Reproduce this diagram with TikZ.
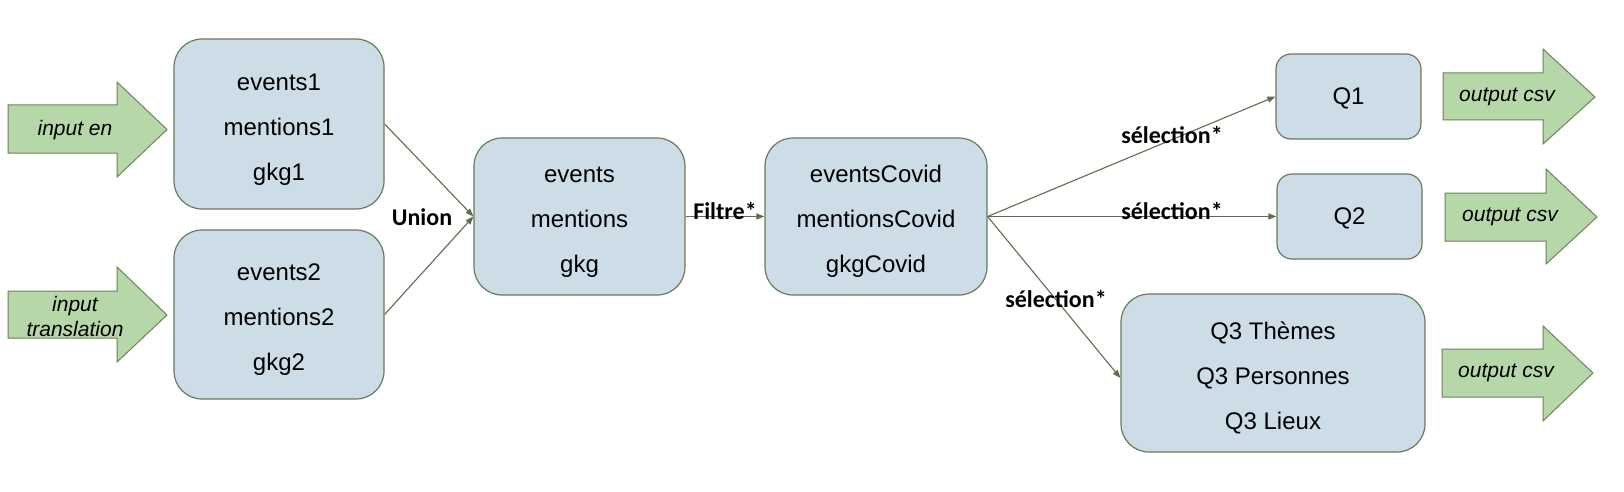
\documentclass[tikz,border=0pt]{standalone}
\usepackage{fontspec}
\setmainfont{Liberation Sans}
\newfontfamily\calfont{Carlito}
\usetikzlibrary{arrows.meta}
\definecolor{boxfill}{RGB}{204,221,232}
\definecolor{boxdraw}{RGB}{107,122,89}
\definecolor{arrfill}{RGB}{182,215,168}
\definecolor{arrdraw}{RGB}{110,130,92}
\definecolor{conn}{RGB}{94,110,78}
\newcommand{\firstln}{\rule{0pt}{27pt}}
\newcommand{\oneln}{\rule{0pt}{21pt}}
\begin{document}
\begin{tikzpicture}[x=1pt,y=-1pt,
  databox/.style={draw=boxdraw,fill=boxfill,line width=1.2pt,rounded corners=28pt,
    align=center,inner sep=0pt,font=\fontsize{24}{45}\selectfont},
  smallbox/.style={databox,rounded corners=15pt},
  blk/.style={draw=arrdraw,fill=arrfill,line width=1pt,line join=miter},
  arrlabel/.style={font=\fontsize{21}{25}\selectfont\itshape,align=center,inner sep=0pt},
  oplabel/.style={font=\calfont\bfseries\fontsize{24}{24}\selectfont,inner sep=0pt},
  link/.style={draw=conn,line width=1.1pt,-{Triangle[length=8pt,width=6pt]}}]
\useasboundingbox (0,0) rectangle (1624,492);
\fill[white] (0,0) rectangle (1624,492);

% input block arrows
\draw[blk] (8,105) -- (117,105) -- (117,82) -- (167,129.5) -- (117,177) -- (117,153) -- (8,153) -- cycle;
\node[arrlabel] (in1) at (75,130) {input en};
\draw[blk] (8,291) -- (117,291) -- (117,267) -- (167,315) -- (117,362) -- (117,338) -- (8,338) -- cycle;
\node[arrlabel] (in2) at (75,316) {input\\translation};

% output block arrows
\draw[blk] (1443,73) -- (1543,73) -- (1543,49) -- (1595,97) -- (1543,144) -- (1543,120) -- (1443,120) -- cycle;
\node[arrlabel] (out1) at (1507,97) {output csv};
\draw[blk] (1445,193) -- (1546,193) -- (1546,169) -- (1597,217) -- (1546,264) -- (1546,241) -- (1445,241) -- cycle;
\node[arrlabel] (out2) at (1510,217) {output csv};
\draw[blk] (1442,349) -- (1543,349) -- (1543,326) -- (1593,373) -- (1543,421) -- (1543,397) -- (1442,397) -- cycle;
\node[arrlabel] (out3) at (1506,373) {output csv};

% data boxes
\node[databox,minimum width=210pt,minimum height=170pt] (b1) at (279,124) {\firstln events1\\mentions1\\gkg1};
\node[databox,minimum width=210pt,minimum height=169pt] (b2) at (279,314.5) {\firstln events2\\mentions2\\gkg2};
\node[databox,minimum width=211pt,minimum height=157pt] (ev) at (579.5,216.5) {\firstln events\\mentions\\gkg};
\node[databox,minimum width=222pt,minimum height=157pt] (cov) at (876,216.5) {\firstln eventsCovid\\mentionsCovid\\gkgCovid};
\node[smallbox,minimum width=145pt,minimum height=85pt] (q1) at (1348.5,96.5) {\oneln Q1};
\node[smallbox,minimum width=145pt,minimum height=85pt] (q2) at (1349.5,216.5) {\oneln Q2};
\node[databox,minimum width=304pt,minimum height=158pt] (q3) at (1273,373) {\firstln Q3 Thèmes\\Q3 Personnes\\Q3 Lieux};

% connectors
\draw[link] (b1.east) -- (ev.west);
\draw[link] (b2.east) -- (ev.west);
\draw[link] (ev.east) -- (cov.west);
\draw[link] (cov.east) -- (q1.west);
\draw[link] (cov.east) -- (q2.west);
\draw[link] (cov.east) -- ([yshift=-5pt]q3.west);

% operation labels
\node[oplabel] (lu) at (422,217) {Union};
\node[oplabel] (lf) at (725,211) {Filtre*};
\node[oplabel] (ls1) at (1172,135) {sélection*};
\node[oplabel] (ls2) at (1172,211) {sélection*};
\node[oplabel] (ls3) at (1056,299) {sélection*};
\end{tikzpicture}
\end{document}
